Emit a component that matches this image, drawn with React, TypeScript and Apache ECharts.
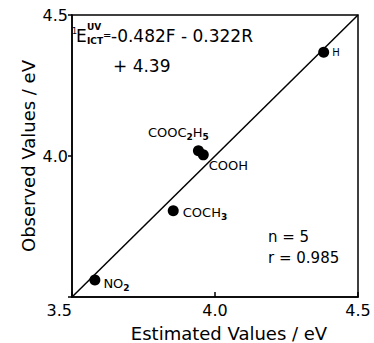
import React, { useEffect, useRef } from "react";
import * as echarts from "echarts";

const substituents = ["H", "COOC2H5", "COOH", "COCH3", "NO2"];
const estimated = [4.38, 3.942, 3.959, 3.854, 3.58];
const observed = [4.368, 4.019, 4.004, 3.806, 3.56];
const fitLine = [
  [3.5, 3.5],
  [4.5, 4.5],
];
const xTicks = [3.5, 4.0, 4.5];
const yTicks = [3.5, 4.0, 4.5];

const richLabels: Record<string, string> = {
  H: "H",
  COOC2H5: "COOC{s|2}H{s|5}",
  COOH: "COOH",
  COCH3: "COCH{s|3}",
  NO2: "NO{s|2}",
};

const labelPlacement: Record<string, any> = {
  H: { position: "right", distance: 3, offset: [0, 0], fontSize: 10 },
  COOC2H5: { position: "top", distance: 3, offset: [-20, -1], fontSize: 13 },
  COOH: { position: "right", distance: 2, offset: [-2, 11], fontSize: 13 },
  COCH3: { position: "right", distance: 4, offset: [0, 2], fontSize: 13 },
  NO2: { position: "right", distance: 3, offset: [0, 3], fontSize: 13 },
};

const FONT = "DejaVu Sans";

export default function App() {
  const ref = useRef<HTMLDivElement>(null);
  useEffect(() => {
    if (!ref.current) return;
    const chart = echarts.init(ref.current, null, { renderer: "svg" });
    const pts = substituents.map((name, i) => {
      const p = labelPlacement[name];
      return {
        name,
        value: [estimated[i], observed[i]],
        label: {
          show: true,
          position: p.position,
          distance: p.distance,
          offset: p.offset,
          fontSize: p.fontSize,
          lineHeight: 18,
          fontFamily: FONT,
          color: "#000",
          formatter: richLabels[name],
          rich: {
            s: {
              fontSize: 9,
              lineHeight: 9,
              verticalAlign: "bottom",
              fontFamily: FONT,
              fontWeight: "bold",
              color: "#000",
            },
          },
        },
      };
    });
    const eqFont = { fontFamily: FONT, fill: "#000" };
    chart.setOption({
      animation: false,
      backgroundColor: "#fff",
      grid: {
        left: 72,
        right: 16,
        top: 15,
        bottom: 46,
        show: true,
        borderColor: "#000",
        borderWidth: 1.5,
        backgroundColor: "transparent",
        outerBoundsMode: "none",
        containLabel: false,
      },
      xAxis: {
        type: "value",
        min: 3.5,
        max: 4.5,
        interval: 0.5,
        axisLine: { show: true, lineStyle: { color: "#000", width: 1.5 } },
        axisTick: { show: true, inside: true, length: 5, lineStyle: { color: "#000", width: 1.5 } },
        splitLine: { show: false },
        axisLabel: {
          color: "#000",
          fontSize: 16,
          fontFamily: FONT,
          margin: 5,
          alignMinLabel: "right",
          alignMaxLabel: "center",
          formatter: (v: number) => (xTicks.includes(v) ? v.toFixed(1) : ""),
        },
        name: "Estimated Values / eV",
        nameLocation: "middle",
        nameGap: 36,
        nameMoveOverlap: false,
        nameTextStyle: {
          color: "#000",
          fontSize: 18,
          fontFamily: FONT,
          padding: [0, 0, 0, 28],
          verticalAlign: "middle",
        },
      },
      yAxis: {
        type: "value",
        min: 3.5,
        max: 4.5,
        interval: 0.5,
        axisLine: { show: true, lineStyle: { color: "#000", width: 1.5 } },
        axisTick: { show: true, inside: false, length: 4, lineStyle: { color: "#000", width: 1.5 } },
        splitLine: { show: false },
        axisLabel: {
          color: "#000",
          fontSize: 16,
          fontFamily: FONT,
          margin: 4,
          formatter: (v: number) => (yTicks.includes(v) && v !== 3.5 ? v.toFixed(1) : ""),
        },
        name: "Observed Values / eV",
        nameLocation: "middle",
        nameGap: 44,
        nameMoveOverlap: false,
        nameTextStyle: { color: "#000", fontSize: 18, fontFamily: FONT, verticalAlign: "middle" },
      },
      graphic: [
        { type: "text", x: 72, y: 31, style: { ...eqFont, text: "1", fontSize: 8, textAlign: "left", textVerticalAlign: "middle" } },
        { type: "text", x: 76, y: 36, style: { ...eqFont, text: "E", fontSize: 17, textAlign: "left", textVerticalAlign: "middle" } },
        { type: "text", x: 87, y: 27, style: { ...eqFont, text: "UV", fontSize: 9, fontWeight: "bold", textAlign: "left", textVerticalAlign: "middle" } },
        { type: "text", x: 87, y: 41, style: { ...eqFont, text: "ICT", fontSize: 9, fontWeight: "bold", textAlign: "left", textVerticalAlign: "middle" } },
        { type: "text", x: 103, y: 35, style: { ...eqFont, text: "=", fontSize: 10, textAlign: "left", textVerticalAlign: "middle" } },
        { type: "text", x: 111, y: 36, style: { ...eqFont, text: "-0.482F - 0.322R", fontSize: 17, textAlign: "left", textVerticalAlign: "middle" } },
        { type: "text", x: 113, y: 66, style: { ...eqFont, text: "+ 4.39", fontSize: 17, textAlign: "left", textVerticalAlign: "middle" } },
        { type: "text", x: 268, y: 237, style: { ...eqFont, text: "n = 5", fontSize: 15, textAlign: "left", textVerticalAlign: "middle" } },
        { type: "text", x: 268, y: 258, style: { ...eqFont, text: "r = 0.985", fontSize: 15, textAlign: "left", textVerticalAlign: "middle" } },
      ],
      series: [
        {
          type: "line",
          data: fitLine,
          symbol: "none",
          lineStyle: { color: "#000", width: 1.5 },
          silent: true,
          z: 1,
        },
        {
          type: "scatter",
          data: pts,
          symbol: "circle",
          symbolSize: 11,
          itemStyle: { color: "#000", opacity: 1 },
          z: 3,
        },
      ],
    });
    return () => chart.dispose();
  }, []);
  return (
    <div
      ref={ref}
      style={{ position: "absolute", left: 0, top: 0, width: 374, height: 343 }}
    />
  );
}
